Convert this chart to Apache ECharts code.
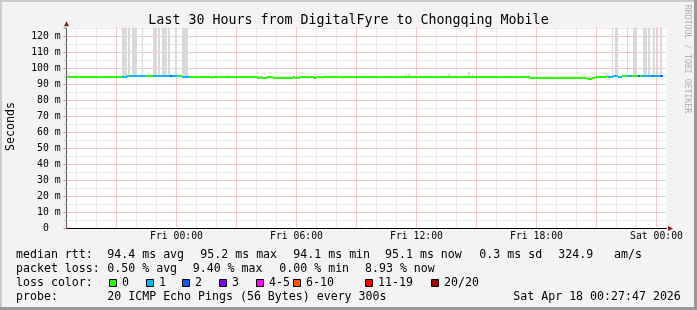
<!DOCTYPE html>
<html><head><meta charset="utf-8">
<script src="https://cdn.jsdelivr.net/npm/echarts@6/dist/echarts.min.js"></script>
<style>html,body{margin:0;padding:0;background:#f3f3f3}#c{width:697px;height:310px}</style>
</head><body><div id="c"></div>
<script>
// ---------------- data ----------------
const titleText = 'Last 30 Hours from DigitalFyre to Chongqing Mobile';
const startHour = -5.5;          // Thu 18:30, hours relative to Fri 00:00
const stepHours = 5 / 60;        // 300 s step
// median RTT (ms), one row per hour (12 x 5 min)
const medianMs = [
  94.7,94.7,94.7,94.7,94.7,94.7,94.7,94.7,94.7,94.7,94.7,94.7,
  94.7,94.7,94.7,94.7,94.7,94.7,94.7,94.7,94.7,94.7,94.7,94.7,
  94.7,94.7,94.7,94.7,94.7,94.7,94.7,94.7,94.7,94.7,94.7,94.7,
  95.3,95.3,95.3,95.3,95.3,95.3,95.3,95.3,95.3,95.3,95.3,95.3,
  95.3,95.3,95.3,95.3,95.3,95.3,95.3,95.3,95.3,95.3,95.3,95.3,
  95.3,95.3,95.3,95.3,95.3,95.3,95.3,95.3,95.3,94.7,94.7,94.7,
  94.7,94.7,94.7,94.7,94.7,94.7,94.7,94.7,94.7,94.7,94.7,94.7,
  94.7,94.7,94.7,94.1,94.7,94.7,94.7,94.7,94.7,94.7,94.7,94.7,
  94.7,94.7,94.7,94.7,94.7,94.7,94.7,94.7,94.7,94.7,94.7,94.7,
  94.7,94.7,94.7,94.7,94.7,94.7,94.1,94.1,94.7,94.1,94.1,94.1,
  94.7,94.7,94.7,94.7,94.1,94.1,94.1,94.1,94.1,94.1,94.1,94.1,
  94.1,94.1,94.1,94.1,94.7,94.1,94.1,94.1,94.7,94.7,94.7,94.7,
  94.1,94.7,94.7,94.7,94.1,94.1,94.7,94.7,94.7,94.1,94.7,94.7,
  94.7,94.7,94.7,94.7,94.7,94.7,94.7,94.7,94.7,94.1,94.7,94.7,
  94.7,94.7,94.7,94.7,94.7,94.7,94.7,94.7,94.7,94.7,94.7,94.7,
  94.7,94.7,94.7,94.7,94.7,94.7,94.7,94.7,94.7,94.7,94.7,94.7,
  94.7,94.7,94.7,94.7,94.7,94.7,94.7,94.7,94.7,94.7,94.7,94.7,
  94.7,94.7,94.7,94.7,94.7,94.7,94.7,94.7,94.7,94.7,94.7,94.7,
  94.7,94.7,94.7,94.7,94.7,94.7,94.7,94.7,94.7,94.7,94.7,94.7,
  94.7,94.7,94.7,94.7,94.7,94.7,94.7,94.7,94.7,94.7,94.7,94.7,
  94.7,94.7,94.7,94.7,94.7,94.7,94.7,94.7,94.7,94.7,94.7,94.7,
  94.7,94.7,94.7,94.7,94.7,94.7,94.7,94.7,94.7,94.7,94.7,94.7,
  94.7,94.7,94.7,94.7,94.7,94.7,94.7,94.7,94.7,94.7,94.7,94.7,
  94.7,94.7,94.1,94.1,94.1,94.1,94.1,94.1,94.1,94.1,94.1,94.1,
  94.1,94.1,94.1,94.1,94.1,94.1,94.1,94.1,94.1,94.1,94.1,94.1,
  94.1,94.1,94.1,94.1,94.1,94.1,94.1,94.1,94.1,94.1,94.1,94.1,
  93.6,93.6,93.6,94.1,94.1,94.7,94.7,94.7,94.7,94.7,94.7,94.7,
  95.3,94.7,94.7,94.7,95.3,95.3,95.3,94.7,94.7,95.3,95.3,95.3,
  95.3,95.3,95.3,95.3,95.3,95.3,95.3,95.3,95.3,95.3,95.3,95.3,
  95.3,95.3,95.3,95.3,95.3,95.3,95.3,95.3,95.3,95.3,null,null
];
// lost pings (of 20) per step
const lossCount = [
  0,0,0,0,0,0,0,0,0,0,0,0,
  0,0,0,0,0,0,0,0,0,0,0,0,
  0,0,0,0,0,0,0,0,0,1,1,1,
  1,0,1,1,1,1,0,1,1,1,1,0,
  0,0,0,0,1,1,1,1,1,1,1,1,
  1,1,2,1,1,1,0,0,0,1,1,1,
  1,1,0,0,0,0,0,0,0,0,0,0,
  0,0,0,0,0,0,0,0,0,0,0,0,
  0,0,0,0,0,0,0,0,0,0,0,0,
  0,0,0,0,0,0,0,0,0,0,0,0,
  0,0,0,0,0,0,0,0,0,0,0,0,
  0,0,0,0,0,0,0,0,0,0,0,0,
  0,0,0,0,0,0,0,0,0,0,0,0,
  0,0,0,0,0,0,0,0,0,0,0,0,
  0,0,0,0,0,0,0,0,0,0,0,0,
  0,0,0,0,0,0,0,0,0,0,0,0,
  0,0,0,0,0,0,0,0,0,0,0,0,
  0,0,0,0,0,0,0,0,0,0,0,0,
  0,0,0,0,0,0,0,0,0,0,0,0,
  0,0,0,0,0,0,0,0,0,0,0,0,
  0,0,0,0,0,0,0,0,0,0,0,0,
  0,0,0,0,0,0,0,0,0,0,0,0,
  0,0,0,0,0,0,0,0,0,0,0,0,
  0,0,0,0,0,0,0,0,0,0,0,0,
  0,0,0,0,0,0,0,0,0,0,0,0,
  0,0,0,0,0,0,0,0,0,0,0,0,
  0,0,0,0,0,0,0,0,0,0,0,0,
  0,1,1,1,1,1,0,1,1,0,0,0,
  0,1,1,0,0,0,0,2,0,1,1,1,
  1,1,1,2,1,1,1,1,2,2,null,null
];
// smoke (ping spread): step index, low ms, high ms
const smokeIndex = [1,33,34,35,37,39,40,41,45,48,52,53,55,57,58,59,61,65,69,70,71,72,96,203,205,229,241,243,327,329,330,336,340,341,346,347,349,352,354,356];
const smokeLow   = [95.0,95.6,95.6,95.6,95.6,95.6,95.6,95.6,95.6,95.6,95.6,95.6,95.6,95.6,95.6,95.6,95.6,95.6,95.6,95.6,95.6,95.6,95.0,95.0,95.0,95.0,95.0,95.0,95.6,95.6,95.6,95.6,95.6,95.6,95.6,95.6,95.6,95.6,95.6,95.6];
const smokeHigh  = [96.4,140,140,140,140,140,140,140,140,97.0,140,140,140,140,140,140,140,140,140,140,140,140,96.6,96.3,96.3,96.3,97.6,96.3,140,140,140,140,140,140,140,140,140,140,140,140];
// loss colour legend
const lossLabels = ['0','1','2','3','4-5','6-10','11-19','20/20'];
const lossUpper  = [0,1,2,3,5,10,19,20];
const lossColors = ['#26ff00','#00b8ff','#0059ff','#7e00ff','#ff00ff','#ff5500','#ff0000','#a00000'];
// axis ticks
const xTickHours  = [0,6,12,18,24];
const xTickLabels = ['Fri 00:00','Fri 06:00','Fri 12:00','Fri 18:00','Sat 00:00'];
const yUnit = ' m';
// legend texts
const rttLabel = 'median rtt:';
const rttStats = ['94.4 ms avg','95.2 ms max','94.1 ms min','95.1 ms now','0.3 ms sd','324.9','am/s'];
const lossLabel = 'packet loss:';
const lossStats = ['0.50 % avg','9.40 % max','0.00 % min','8.93 % now'];
const colorLabel = 'loss color:';
const probeLabel = 'probe:';
const probeText = '20 ICMP Echo Pings (56 Bytes) every 300s';
const dateText = 'Sat Apr 18 00:27:47 2026';
const yName = 'Seconds';
const sideText = 'RRDTOOL / TOBI OETIKER';

// ---------------- layout ----------------
const MONO = '"DejaVu Sans Mono", monospace';
const xMin = -5.5, xMax = 24.5, yMax = 125.5;
const gridMin = -6;                 // aligned start for the hour grid (multiple of 6)
const pxPerHour = 20;
const minorColor = '#d4d4d4', majorColor = '#f5a5a5';
const rttX = [107.3,200.3,293.3,385,479.3,558.3,614];
const lossX = [107.3,192.7,279.3,365];
const boxX = [109,146,182,219,256,293,365,431];
const rowY = [254.5,268.5,282.5,296.5];
const G = {left:66.5, top:27.7, width:600, height:200.8};

function lossBucket(n){ for (let k=0;k<lossUpper.length;k++) if (n<=lossUpper[k]) return k; return lossUpper.length-1; }
const tAt = (i)=> startHour + i*stepHours;

const medianData = [];
medianMs.forEach((v,i)=>{ if (v!=null) medianData.push([tAt(i), v, lossCount[i], tAt(i+1)]); });
const smokeData = smokeIndex.map((idx,k)=>[tAt(idx), smokeLow[k], smokeHigh[k], tAt(idx+1)]);

function xAx(extra){
  return Object.assign({type:'value', min:xMin, max:xMax, gridIndex:0, position:'bottom',
    axisLine:{show:false,onZero:false}, axisTick:{show:false}, axisLabel:{show:false}, splitLine:{show:false}}, extra);
}
function xAx1(extra){
  return Object.assign({type:'value', min:gridMin, max:xMax, gridIndex:1, position:'bottom',
    axisLine:{show:false,onZero:false}, axisTick:{show:false}, axisLabel:{show:false}, splitLine:{show:false}}, extra);
}
function yAx(extra){
  return Object.assign({type:'value', min:0, max:yMax, gridIndex:0, position:'left',
    axisLine:{show:false,onZero:false}, axisTick:{show:false}, axisLabel:{show:false}, splitLine:{show:false}}, extra);
}
const txt = (x,y,s,extra)=>({type:'text', x:x, y:y, silent:true, z:100,
  style:Object.assign({text:s, font:'11.6px '+MONO, fill:'#000', verticalAlign:'middle', align:'left'}, extra||{})});

const graphics = [];
graphics.push({type:'rect', shape:{x:0,y:0,width:697,height:2}, style:{fill:'#cbcbcb'}, z:100, silent:true});
graphics.push({type:'rect', shape:{x:0,y:0,width:2,height:310}, style:{fill:'#cbcbcb'}, z:100, silent:true});
graphics.push({type:'rect', shape:{x:0,y:307,width:697,height:3}, style:{fill:'#999'}, z:100, silent:true});
graphics.push({type:'rect', shape:{x:694,y:0,width:3,height:310}, style:{fill:'#999'}, z:100, silent:true});
graphics.push(txt(16,rowY[0],rttLabel));
rttStats.forEach((s,k)=>graphics.push(txt(rttX[k],rowY[0],s)));
graphics.push(txt(16,rowY[1],lossLabel));
lossStats.forEach((s,k)=>graphics.push(txt(lossX[k],rowY[1],s)));
graphics.push(txt(16,rowY[2],colorLabel));
lossLabels.forEach((s,k)=>{
  graphics.push({type:'rect', shape:{x:boxX[k]+0.5,y:279.5,width:7,height:7}, style:{fill:lossColors[k],stroke:'#000',lineWidth:1}, z:100, silent:true});
  graphics.push(txt(boxX[k]+13,rowY[2],s));
});
graphics.push(txt(16,rowY[3],probeLabel));
graphics.push(txt(107.3,rowY[3],probeText));
graphics.push(txt(513.3,rowY[3],dateText));
graphics.push({type:'text', x:11, y:126.5, rotation:Math.PI/2, silent:true, z:100,
  style:{text:yName, font:'11.6px '+MONO, fill:'#000', align:'center', verticalAlign:'middle'}});
graphics.push({type:'text', x:687.5, y:59, rotation:-Math.PI/2, silent:true, z:100,
  style:{text:sideText, font:'8.2px '+MONO, fill:'#b0b0b0', align:'center', verticalAlign:'middle'}});

const snapRect = (x0,x1,y0,y1,fill)=>{
  const X0 = Math.round(x0), X1 = Math.round(x1), Y0 = Math.round(y0), Y1 = Math.round(y1);
  return {type:'rect', shape:{x:X0, y:Y0, width:Math.max(1,X1-X0), height:Math.max(1,Y1-Y0)}, style:{fill:fill}};
};

const option = {
  backgroundColor:'#f3f3f3',
  animation:false,
  title:{text:titleText, left:'center', top:9, textStyle:{fontFamily:MONO, fontSize:13.3, fontWeight:'normal', color:'#000'}},
  grid:[
    {left:G.left, top:G.top, width:G.width, height:G.height, show:true, backgroundColor:'#fff', borderWidth:0},
    {left:G.left-(xMin-gridMin)*pxPerHour, top:G.top, width:G.width+(xMin-gridMin)*pxPerHour, height:G.height, show:false}
  ],
  xAxis:[
    xAx({axisLine:{show:true, onZero:false, lineStyle:{color:'#000', width:1}}}),
    xAx({axisLine:{show:true, onZero:false, symbol:['none','triangle'], symbolSize:[5,5], symbolOffset:[0,4], lineStyle:{color:'#8b1a1a', opacity:0}}}),
    xAx1({interval:1, splitLine:{show:true, showMinLine:false, showMaxLine:false, lineStyle:{color:minorColor, type:[1,1], width:1}}}),
    xAx1({interval:3, splitLine:{show:true, showMinLine:false, showMaxLine:false, lineStyle:{color:majorColor, type:[1,1], width:1}}}),
    xAx1({interval:6, axisLabel:{show:true, margin:3, fontFamily:MONO, fontSize:9.75, color:'#000', showMinLabel:false, showMaxLabel:false,
        formatter:(v)=>{ const k = xTickHours.indexOf(Math.round(v*1000)/1000); return k>=0 ? xTickLabels[k] : ''; }}})
  ],
  yAxis:[
    yAx({interval:5, axisTick:{show:true,length:3,lineStyle:{color:'#c0c0c0'}},
      splitLine:{show:true, showMinLine:false, showMaxLine:false, lineStyle:{color:minorColor, type:[1,1], width:1}}}),
    yAx({interval:10, axisTick:{show:true,length:3,lineStyle:{color:'#f08080'}},
      splitLine:{show:true, showMinLine:false, showMaxLine:false, lineStyle:{color:majorColor, type:[1,1], width:1}},
      axisLabel:{show:true, margin:6, fontFamily:MONO, fontSize:9.75, color:'#000', showMaxLabel:false,
        formatter:(v)=> v===0 ? '0  ' : (v + yUnit)}}),
    yAx({axisLine:{show:true, onZero:false, lineStyle:{color:'#555', width:1}}}),
    yAx({axisLine:{show:true, onZero:false, symbol:['none','triangle'], symbolSize:[5,5], symbolOffset:[0,4], lineStyle:{color:'#8b1a1a', opacity:0}}}),
    {type:'value', gridIndex:1, min:0, max:yMax, show:false}
  ],
  series:[
    {type:'custom', name:'smoke', xAxisIndex:0, yAxisIndex:0, clip:true, silent:true, z:2,
      data:smokeData, encode:{x:[0,3], y:[1,2]},
      renderItem:(params, api)=>{
        const a = api.coord([api.value(0), api.value(2)]);
        const b = api.coord([api.value(3), api.value(1)]);
        return snapRect(a[0], b[0], a[1], b[1], '#d9d9d9');
      }},
    {type:'custom', name:'median', xAxisIndex:0, yAxisIndex:0, clip:true, silent:true, z:3,
      data:medianData, encode:{x:[0,3], y:1},
      renderItem:(params, api)=>{
        const a = api.coord([api.value(0), api.value(1)]);
        const b = api.coord([api.value(3), api.value(1)]);
        return snapRect(a[0], b[0], a[1]-1, a[1]+1, lossColors[lossBucket(api.value(2))]);
      }}
  ],
  graphic:graphics
};
const chart = echarts.init(document.getElementById('c'), null, {renderer:'canvas', width:697, height:310});
chart.setOption(option);
</script>
</body></html>
